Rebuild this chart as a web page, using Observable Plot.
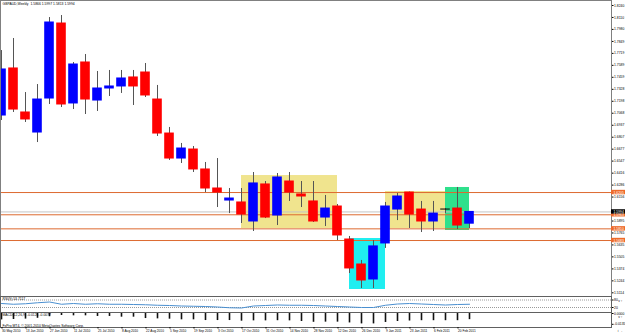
<!DOCTYPE html>
<html><head><meta charset="utf-8">
<script src="https://cdn.jsdelivr.net/npm/d3@7"></script>
<script src="https://cdn.jsdelivr.net/npm/@observablehq/plot@0.6"></script>
<style>
body{margin:0;background:#fff;}
#chart{position:relative;width:625px;height:334px;overflow:hidden;background:#fff;font-family:"Liberation Sans",Arial,sans-serif;}
#chart svg{position:absolute;left:0;}
</style></head><body><div id="chart"></div>
<script>
const dateLabels = ["30 May 2010","13 Jun 2010","27 Jun 2010","11 Jul 2010","25 Jul 2010","8 Aug 2010","22 Aug 2010","5 Sep 2010","19 Sep 2010","3 Oct 2010","17 Oct 2010","31 Oct 2010","14 Nov 2010","28 Nov 2010","12 Dec 2010","26 Dec 2010","9 Jan 2011","23 Jan 2011","6 Feb 2011","20 Feb 2011"];
const openP  = [1.7043,1.7555,1.7076,1.6858,1.7228,1.8044,1.7174,1.7620,1.7206,1.7337,1.7359,1.7457,1.7511,1.7217,1.6847,1.6575,1.6673,1.6456,1.6249,1.6118,1.6097,1.5890,1.6293,1.5955,1.6325,1.6184,1.6108,1.5933,1.6053,1.5694,1.5422,1.5259,1.5651,1.6020,1.6205,1.6020,1.5890,1.6020,1.6031,1.5866];
const highP  = [1.7750,1.7881,1.7293,1.7380,1.8109,1.8131,1.7620,1.7707,1.7522,1.7533,1.7533,1.7533,1.7609,1.7370,1.6913,1.6739,1.6706,1.6532,1.6575,1.6249,1.6249,1.6423,1.6325,1.6412,1.6423,1.6325,1.6325,1.6173,1.6075,1.5727,1.5466,1.5683,1.6097,1.6195,1.6210,1.6108,1.6108,1.6031,1.6260,1.5997];
const lowP   = [1.6989,1.7076,1.6967,1.6749,1.7163,1.7130,1.7108,1.7054,1.7087,1.7250,1.7283,1.7152,1.7239,1.6815,1.6554,1.6521,1.6423,1.6205,1.6042,1.5976,1.5868,1.5781,1.5922,1.5846,1.6108,1.6042,1.5879,1.5835,1.5683,1.5324,1.5161,1.5161,1.5597,1.5900,1.5814,1.5770,1.5781,1.5976,1.5803,1.5813];
const closeP = [1.7544,1.7108,1.7000,1.7217,1.8055,1.7163,1.7598,1.7217,1.7337,1.7359,1.7446,1.7359,1.7261,1.6847,1.6575,1.6684,1.6456,1.6249,1.6205,1.6140,1.5966,1.6304,1.5933,1.6369,1.6205,1.6162,1.5890,1.6031,1.5738,1.5379,1.5248,1.5619,1.6053,1.6162,1.5966,1.5890,1.5976,1.6020,1.5846,1.5994];
const rsiValues = [52,46,50,58,64,46,52,46,50,46,46,44,42,38,36,32,30,28,24,18,16,32,36,40,38,38,36,32,28,24,20,20,38,48,52,48,44,40,44,46];
const macdValues = [-0.0080,-0.0075,-0.0070,-0.0060,-0.0040,-0.0025,-0.0029,-0.0029,-0.0037,-0.0037,-0.0046,-0.0046,-0.0063,-0.0067,-0.0071,-0.0079,-0.0079,-0.0088,-0.0088,-0.0088,-0.0096,-0.0092,-0.0092,-0.0090,-0.0092,-0.0100,-0.0110,-0.0108,-0.0108,-0.0118,-0.0130,-0.0130,-0.0112,-0.0100,-0.0094,-0.0090,-0.0090,-0.0090,-0.0090,-0.0077];
const priceTicks = [1.8240,1.8110,1.7980,1.7849,1.7719,1.7589,1.7459,1.7328,1.7198,1.7068,1.6937,1.6807,1.6677,1.6547,1.6416,1.6286,1.6156,1.5895,1.5765,1.5635,1.5505,1.5374,1.5244,1.5114];
const levelPrices = [1.6205,1.5963,1.5810,1.5683];
const bidPrice = 1.5994;
const zoneStart = [20,29,32,37];
const zoneEnd   = [28,32,37,39];
const zoneTop   = [1.6390,1.5705,1.6216,1.6260];
const zoneBottom= [1.5814,1.5150,1.5814,1.5792];
const zoneColor = ["#f0e48e","#20eef0","#f0e48e","#2fe08c"];
const rsiTicks = [80,20];
const macdTicks = [0,-0.0135];
const headerText = "GBPAUD,Weekly  1.5866 1.5997 1.5813 1.5994";
const rsiText = "RSI(9) 53.7117";
const macdText = "MACD(12,26,9) -0.0126 -0.0077";
const copyText = "FxPro MT4, \u00a9 2001-2010 MetaQuotes Software Corp.";

const W = 625, MR = 14;
const xMin = -1/12, xMax = 610/12;
const pxPerUnit = 12;
const FS = 3.4;
const font = '"Liberation Sans", Arial, sans-serif';
const BULL = "#0000ff", BEAR = "#ff0000", LEVEL = "#dd6a30", LABEL = "#ee6a2a";

const candles = openP.map((o,i)=>({i, open:o, high:highP[i], low:lowP[i], close:closeP[i]}));
const colorOf = d => d.close > d.open ? BULL : d.close < d.open ? BEAR : "#000";
const zones = zoneStart.map((s,k)=>({s, e:zoneEnd[k], t:zoneTop[k], b:zoneBottom[k], c:zoneColor[k]}));
const labels = levelPrices.map(p=>({p, c:LABEL})).concat([{p:bidPrice, c:"#000"}]);
const rsiData = rsiValues.map((v,i)=>({i,v}));
const macdData = macdValues.map((v,i)=>({i,v}));
const dateTicks = dateLabels.map((_,k)=>k*2);

const root = document.getElementById("chart");
function place(svg, top){ svg.style.top = top+"px"; root.appendChild(svg); }

const main = Plot.plot({
  width: W, height: 297, marginTop: 0, marginBottom: 1, marginLeft: 0, marginRight: MR,
  x: {domain: [xMin, xMax], axis: null},
  y: {domain: [1.50739, 1.82944], axis: null},
  color: {type: "identity"},
  style: {fontFamily: font, fontSize: FS+"px", background: "transparent", overflow: "visible"},
  marks: [
    Plot.rect(zones, {x1: "s", x2: "e", y1: "b", y2: "t", fill: "c"}),
    Plot.ruleY(levelPrices, {stroke: LEVEL, strokeWidth: 1}),
    Plot.ruleY([bidPrice], {stroke: "#c4c4c4", strokeWidth: 1}),
    Plot.ruleX(candles, {x: "i", y1: "low", y2: "high", stroke: "#555", strokeWidth: 1}),
    Plot.rect(candles, {x1: d=>d.i-0.4, x2: d=>d.i+0.4, y1: "open", y2: "close", fill: colorOf, insetTop: -0.5, insetBottom: -0.5}),
    Plot.frame({stroke: "#808080"}),
    Plot.axisY(priceTicks, {anchor: "right", tickSize: 1.5, tickPadding: 1, tickFormat: d=>d.toFixed(4), fontSize: FS, fill: "#000", stroke: "#000"}),
    Plot.rect(labels, {x1: xMax, x2: xMax + MR/pxPerUnit, y1: d=>d.p-0.0024, y2: d=>d.p+0.0024, fill: "c"}),
    Plot.text(labels, {x: xMax, y: "p", text: d=>d.p.toFixed(4), textAnchor: "start", dx: 2, fill: "#fff", fontSize: FS}),
    Plot.text([headerText], {frameAnchor: "top-left", text: d=>d, dx: 2, dy: 2, lineAnchor: "top", textAnchor: "start", fontSize: FS, fill: "#000"})
  ]
});
place(main, 0);

const rsiPlot = Plot.plot({
  width: W, height: 16, marginTop: 0, marginBottom: 0, marginLeft: 0, marginRight: MR,
  x: {domain: [xMin, xMax], axis: null},
  y: {domain: [-20, 108], axis: null},
  style: {fontFamily: font, fontSize: FS+"px", background: "transparent", overflow: "visible"},
  marks: [
    Plot.ruleY(rsiTicks, {stroke: "#9a9a9a", strokeDasharray: "1,1"}),
    Plot.line(rsiData, {x: "i", y: "v", stroke: "#4a8fd0", strokeWidth: 1}),
    Plot.frame({stroke: "#606060"}),
    Plot.axisY(rsiTicks, {anchor: "right", tickSize: 1.5, tickPadding: 1, tickFormat: d=>String(d), fontSize: FS, fill: "#000"}),
    Plot.text([rsiText], {frameAnchor: "top-left", text: d=>d, dx: 2, dy: 1.5, lineAnchor: "top", textAnchor: "start", fontSize: FS, fill: "#000"})
  ]
});
place(rsiPlot, 296);

const macdPlot = Plot.plot({
  width: W, height: 22, marginTop: 0, marginBottom: 7, marginLeft: 0, marginRight: MR,
  x: {domain: [xMin, xMax], axis: null},
  y: {domain: [-0.0175, 0.00125], axis: null},
  style: {fontFamily: font, fontSize: FS+"px", background: "transparent", overflow: "visible"},
  marks: [
    Plot.ruleX(macdData, {x: "i", y1: 0, y2: "v", stroke: "#111", strokeWidth: 1.6}),
    Plot.frame({stroke: "#606060"}),
    Plot.axisY(macdTicks, {anchor: "right", tickSize: 1.5, tickPadding: 1, tickFormat: d=>d.toFixed(4), fontSize: FS, fill: "#000"}),
    Plot.text([macdText], {frameAnchor: "top-left", text: d=>d, dx: 2, dy: 1.5, lineAnchor: "top", textAnchor: "start", fontSize: FS, fill: "#000"}),
    Plot.text([copyText], {frameAnchor: "bottom-left", text: d=>d, dx: 2, dy: -1, lineAnchor: "bottom", textAnchor: "start", fontSize: FS, fill: "#000"}),
    Plot.axisX(dateTicks, {anchor: "bottom", tickSize: 1.5, tickPadding: 0.5, tickFormat: d=>dateLabels[d/2], textAnchor: "start", dx: 0.5, fontSize: 3.2, fill: "#000"})
  ]
});
place(macdPlot, 312);
</script></body></html>
